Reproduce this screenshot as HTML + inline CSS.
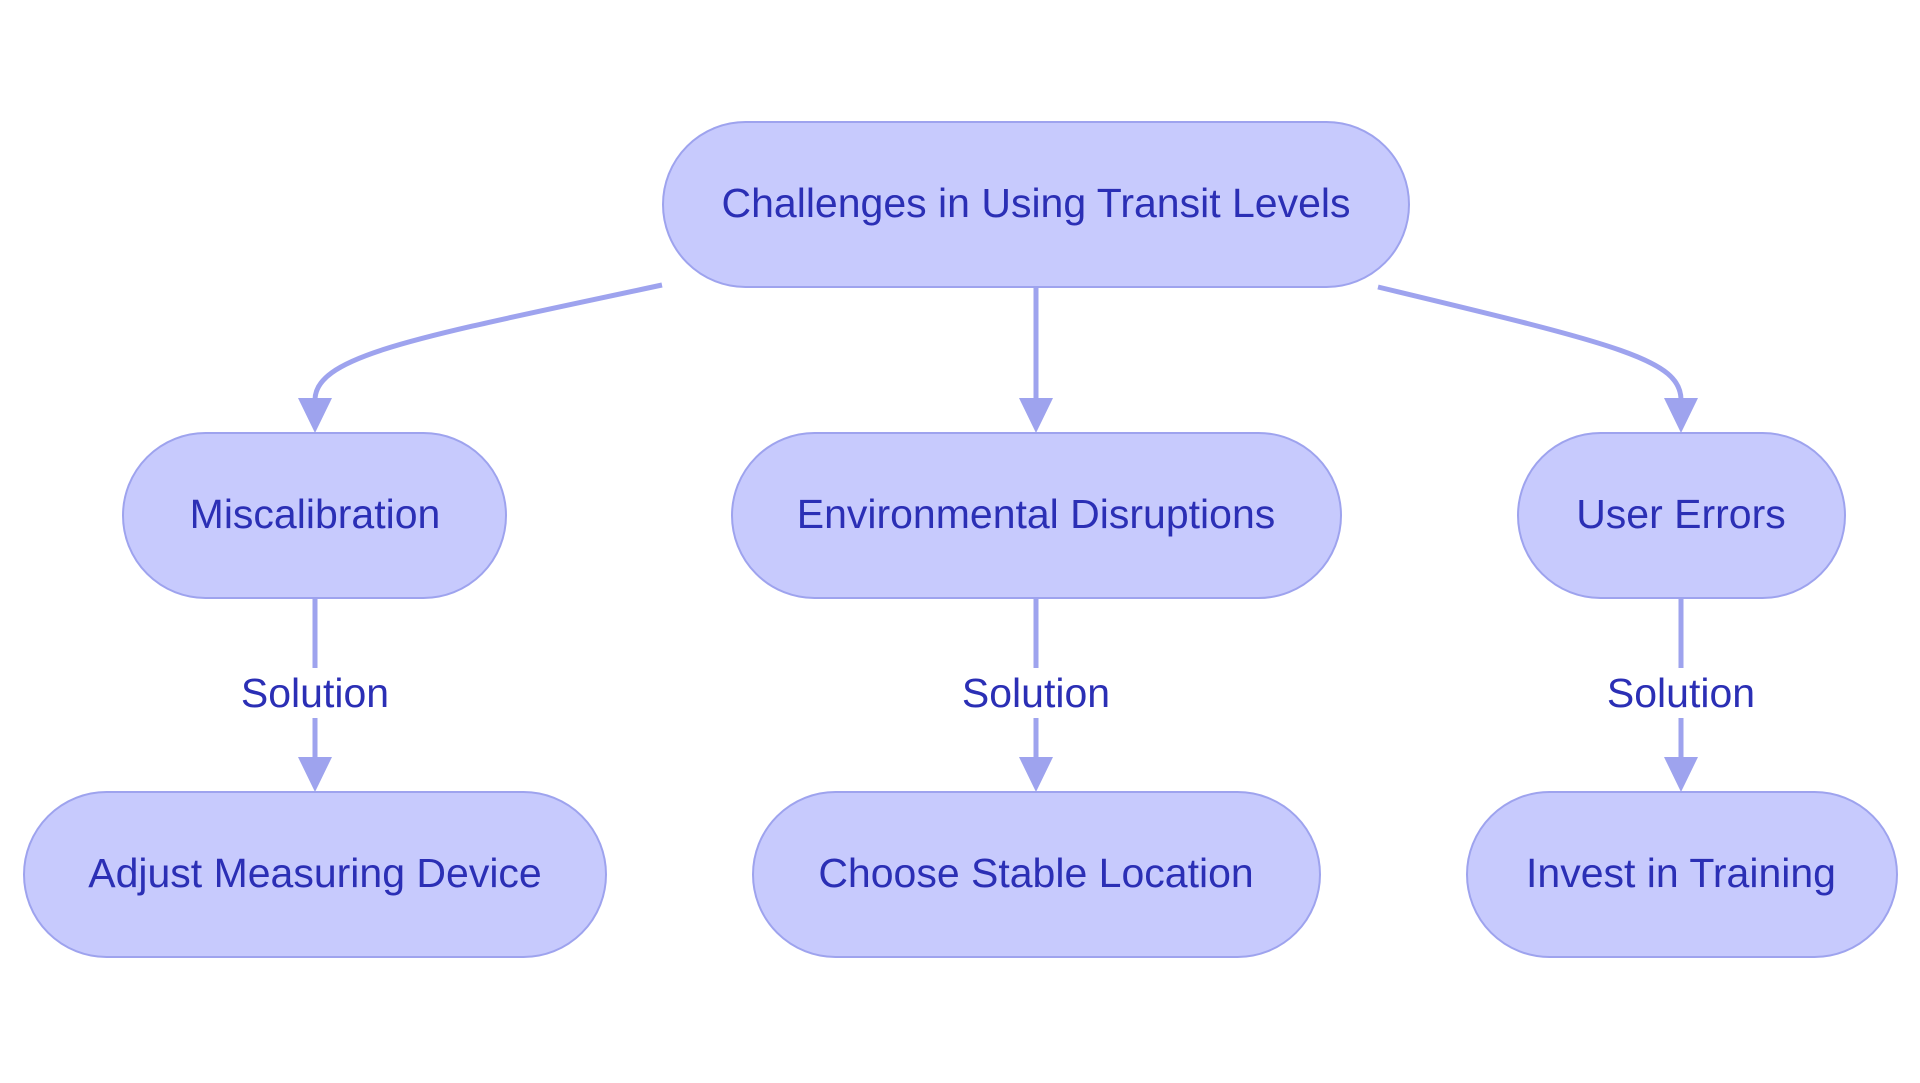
<!DOCTYPE html>
<html><head><style>
html,body{margin:0;padding:0;background:#fff;}
svg{display:block;}
text{font-family:"Liberation Sans",sans-serif;fill:#2b2fb5;}
</style></head><body>
<svg width="1920" height="1083" viewBox="0 0 1920 1083" xmlns="http://www.w3.org/2000/svg">
<g fill="none" stroke="#9ea3ee" stroke-width="5">
<path d="M662,285 C420,337 315,355 315,400 L315,405"/>
<path d="M1036,287 L1036,405"/>
<path d="M1378,287 C1620,345 1681,360 1681,400 L1681,405"/>
<path d="M315,598 L315,765"/>
<path d="M1036,598 L1036,765"/>
<path d="M1681,598 L1681,765"/>
</g>
<g fill="#9ea3ee">
<polygon points="298,398 332,398 315,433"/>
<polygon points="1019,398 1053,398 1036,433"/>
<polygon points="1664,398 1698,398 1681,433"/>
<polygon points="298,757 332,757 315,792"/>
<polygon points="1019,757 1053,757 1036,792"/>
<polygon points="1664,757 1698,757 1681,792"/>
</g>
<g fill="#c7cafd" stroke="#9ea3ee" stroke-width="2">
<rect x="663" y="122" width="746" height="165" rx="82.5"/>
<rect x="123" y="433" width="383" height="165" rx="82.5"/>
<rect x="732" y="433" width="609" height="165" rx="82.5"/>
<rect x="1518" y="433" width="327" height="165" rx="82.5"/>
<rect x="24" y="792" width="582" height="165" rx="82.5"/>
<rect x="753" y="792" width="567" height="165" rx="82.5"/>
<rect x="1467" y="792" width="430" height="165" rx="82.5"/>
</g>
<g fill="#fff">
<rect x="230" y="668" width="170" height="50"/>
<rect x="951" y="668" width="170" height="50"/>
<rect x="1596" y="668" width="170" height="50"/>
</g>
<g font-size="41" text-anchor="middle">
<text x="1036" y="217">Challenges in Using Transit Levels</text>
<text x="315" y="528">Miscalibration</text>
<text x="1036" y="528">Environmental Disruptions</text>
<text x="1681" y="528">User Errors</text>
<text x="315" y="887">Adjust Measuring Device</text>
<text x="1036" y="887">Choose Stable Location</text>
<text x="1681" y="887">Invest in Training</text>
<text x="315" y="707">Solution</text>
<text x="1036" y="707">Solution</text>
<text x="1681" y="707">Solution</text>
</g>
</svg>
</body></html>
